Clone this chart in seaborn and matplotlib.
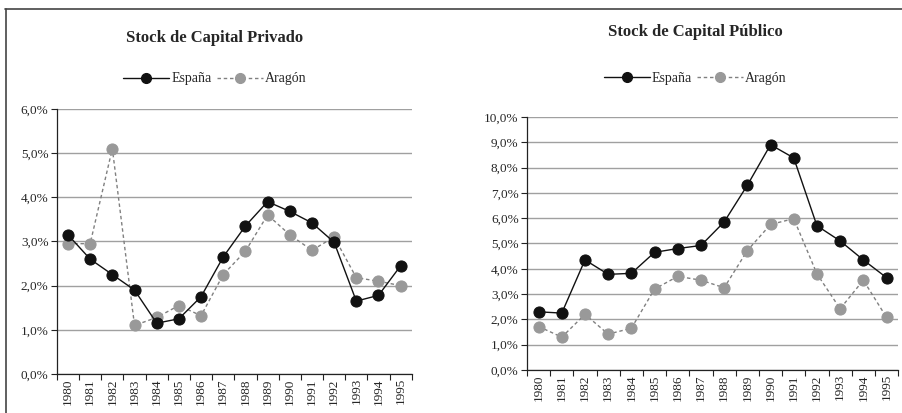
import matplotlib.pyplot as plt
import matplotlib.ticker as mticker
from matplotlib.lines import Line2D
import seaborn as sns
import pandas as pd

# datos (tasas de crecimiento, %)
anios = list(range(1980, 1996))

privado_espana = [3.15, 2.6, 2.25, 1.9, 1.15, 1.25, 1.75, 2.65, 3.35, 3.9, 3.68, 3.42, 2.98, 1.65, 1.78, 2.45]
privado_aragon = [2.95, 2.95, 5.1, 1.1, 1.28, 1.55, 1.32, 2.25, 2.78, 3.6, 3.15, 2.8, 3.1, 2.18, 2.1, 2.0]

publico_espana = [2.3, 2.25, 4.35, 3.78, 3.82, 4.65, 4.8, 4.92, 5.85, 7.3, 8.9, 8.38, 5.7, 5.1, 4.35, 3.65]
publico_aragon = [1.72, 1.3, 2.2, 1.42, 1.65, 3.2, 3.7, 3.55, 3.25, 4.72, 5.75, 5.98, 3.8, 2.42, 3.55, 2.08]

series = ["España", "Aragón"]

sns.set_theme(style="white")
plt.rcParams["font.family"] = ["Liberation Serif", "DejaVu Serif"]

colores = {"España": "#111111", "Aragón": "#999999"}
lineas = {"España": "#111111", "Aragón": "#808080"}
estilos = {"España": "-", "Aragón": (0, (2.5, 2))}


def panel(ax, espana, aragon, ymax, titulo, tx, ty, ly):
    df = pd.DataFrame({
        "anio": anios * 2,
        "valor": espana + aragon,
        "serie": ["España"] * len(anios) + ["Aragón"] * len(anios),
    })
    for s in series[::-1]:
        d = df[df["serie"] == s]
        sns.lineplot(data=d, x="anio", y="valor", ax=ax, color=lineas[s],
                     linewidth=1.0, linestyle=estilos[s], marker="o",
                     markersize=8, markerfacecolor=colores[s],
                     markeredgecolor=colores[s], legend=False)

    ax.set_xlim(anios[0] - 0.5, anios[-1] + 0.5)
    ax.set_ylim(0, ymax)
    ax.set_xlabel("")
    ax.set_ylabel("")

    ax.yaxis.set_major_locator(mticker.MultipleLocator(1))
    ax.yaxis.set_major_formatter(mticker.FuncFormatter(lambda v, p: f"{v:.1f}%".replace(".", ",")))
    ax.grid(axis="y", color="#a0a0a0", linewidth=1.0)
    ax.set_axisbelow(True)

    # marcas entre categorias, etiquetas en el centro
    ax.set_xticks([a - 0.5 for a in anios] + [anios[-1] + 0.5])
    ax.set_xticklabels([])
    ax.set_xticks(anios, minor=True)
    ax.set_xticklabels([str(a) for a in anios], minor=True, rotation=90)
    ax.tick_params(axis="x", which="major", length=4, width=0.8, color="#222222", direction="out")
    ax.tick_params(axis="x", which="minor", length=0, labelsize=9.5, pad=3)
    ax.tick_params(axis="y", length=4, width=0.8, color="#222222", labelsize=9.5, pad=2, direction="out")
    ax.xaxis.set_tick_params(bottom=True, which="both")
    ax.yaxis.set_tick_params(left=True)

    for lado in ["top", "right"]:
        ax.spines[lado].set_visible(False)
    for lado in ["left", "bottom"]:
        ax.spines[lado].set_color("#222222")
        ax.spines[lado].set_linewidth(0.9)

    handles = [
        Line2D([], [], color=lineas[s], linestyle=estilos[s], linewidth=1.0,
               marker="o", markersize=7, markerfacecolor=colores[s],
               markeredgecolor=colores[s])
        for s in series
    ]
    fig = ax.figure
    fig.legend(handles, series, loc="center", bbox_to_anchor=(tx, ly),
               ncol=2, frameon=False, fontsize=10, handlelength=3.3,
               columnspacing=0.4, handletextpad=0.15)
    fig.text(tx, ty, titulo, ha="center", va="center", fontsize=12, fontweight="bold")


fig = plt.figure(figsize=(9.03, 4.13), dpi=100)
ax1 = fig.add_axes([0.063, 0.0944, 0.393, 0.642])
ax2 = fig.add_axes([0.5836, 0.104, 0.411, 0.613])

panel(ax1, privado_espana, privado_aragon, 6, "Stock de Capital Privado", 0.238, 0.908, 0.809)
panel(ax2, publico_espana, publico_aragon, 10, "Stock de Capital Público", 0.770, 0.923, 0.811)

# marco del grafico original
fig.add_artist(Line2D([0.006, 1.0], [0.979, 0.979], color="#444444", linewidth=1.2))
fig.add_artist(Line2D([0.0066, 0.0066], [0.0, 0.979], color="#444444", linewidth=1.2))

fig.savefig("out.png", dpi=100)
